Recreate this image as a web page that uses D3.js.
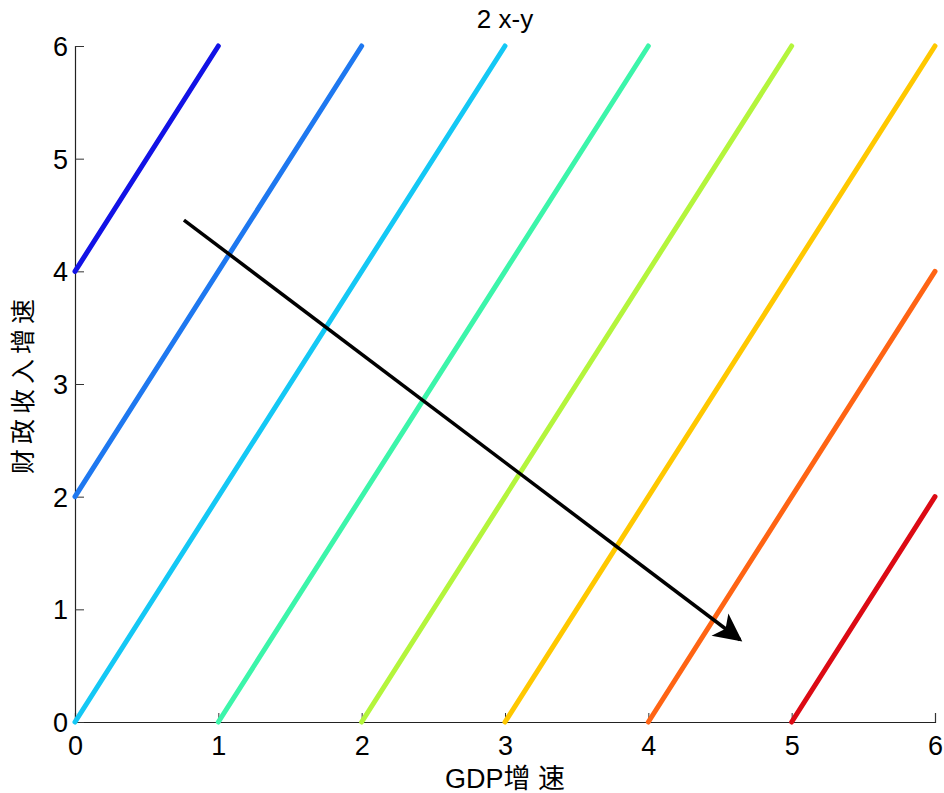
<!DOCTYPE html>
<html>
<head>
<meta charset="utf-8">
<script src="https://cdn.jsdelivr.net/npm/d3@7"></script>
<style>
  body { margin: 0; background: #fff; }
  text { font-family: "Liberation Sans", Arial, sans-serif; }
</style>
</head>
<body>
<div id="chart"></div>
<script>
// line start / end points
const startX = [0, 0, 0, 1, 2, 3, 4, 5];
const startY = [4, 2, 0, 0, 0, 0, 0, 0];
const endX = [1, 2, 3, 4, 5, 6, 6, 6];
const endY = [6, 6, 6, 6, 6, 6, 4, 2];
const lineColors = ['#1212e6', '#1e78f0', '#14c8f5', '#3cf5aa', '#b4f53c', '#ffc800', '#ff6414', '#dc0a14'];
const xTicks = [0, 1, 2, 3, 4, 5, 6];
const yTicks = [0, 1, 2, 3, 4, 5, 6];
const arrowFrom = [0.76, 4.455];
const arrowTo = [4.64, 0.73];

const W = 944, H = 793;
const margin = { top: 46, right: 9, bottom: 71, left: 75 };

const svg = d3.select('#chart').append('svg')
  .attr('width', W).attr('height', H);

const x = d3.scaleLinear().domain([0, 6]).range([margin.left, W - margin.right]);
const y = d3.scaleLinear().domain([0, 6]).range([H - margin.bottom, margin.top]);

// axes (ticks point inward)
let xAxis = svg.append('g')
  .attr('transform', 'translate(0,' + y(0) + ')')
  .call(d3.axisBottom(x).tickValues(xTicks).tickSize(-9).tickFormat(d3.format('d')));
let yAxis = svg.append('g')
  .attr('transform', 'translate(' + x(0) + ',0)')
  .call(d3.axisLeft(y).tickValues(yTicks).tickSize(-9).tickFormat(d3.format('d')));

[xAxis, yAxis].forEach(a => {
  a.attr('font-size', null);
  a.select('.domain').attr('stroke', '#222').attr('stroke-width', 1.2);
  a.selectAll('.tick line').attr('stroke', '#333').attr('stroke-width', 1);
  a.selectAll('.tick text').style('font-size', '27px').attr('fill', '#000');
});
xAxis.selectAll('.tick text').attr('y', 13).attr('dy', '0.75em');
yAxis.selectAll('.tick text').attr('x', -7).attr('dy', '0.35em');

// lines
let lineData = startX.map((d, i) => ({ x0: d, y0: startY[i], x1: endX[i], y1: endY[i], c: lineColors[i] }));
svg.append('g').selectAll('line').data(lineData).enter().append('line')
  .attr('x1', d => x(d.x0)).attr('y1', d => y(d.y0))
  .attr('x2', d => x(d.x1)).attr('y2', d => y(d.y1))
  .attr('stroke', d => d.c).attr('stroke-width', 5)
  .attr('stroke-linecap', 'round');

// arrow
svg.append('defs').append('marker')
  .attr('id', 'head')
  .attr('viewBox', '0 0 10 10')
  .attr('refX', 9).attr('refY', 5)
  .attr('markerWidth', 9).attr('markerHeight', 8)
  .attr('markerUnits', 'strokeWidth')
  .attr('orient', 'auto')
  .append('path').attr('d', 'M0,0 L10,5 L0,10 L2.5,5 Z').attr('fill', '#000');

svg.append('line')
  .attr('x1', x(arrowFrom[0])).attr('y1', y(arrowFrom[1]))
  .attr('x2', x(arrowTo[0])).attr('y2', y(arrowTo[1]))
  .attr('stroke', '#000').attr('stroke-width', 3.5)
  .attr('marker-end', 'url(#head)');

// title and labels
svg.append('text').attr('x', (x(0) + x(6)) / 2).attr('y', 28)
  .attr('text-anchor', 'middle').style('font-size', '26px').text('2 x-y');
svg.append('text').attr('x', (x(0) + x(6)) / 2).attr('y', 788)
  .attr('text-anchor', 'middle').style('font-size', '27px')
  .style('font-family', '"Liberation Sans", "Noto Sans CJK SC", sans-serif')
  .text('GDP增 速');
svg.append('text')
  .attr('transform', 'translate(32,' + ((y(0) + y(6)) / 2) + ') rotate(-90)')
  .attr('text-anchor', 'middle').style('font-size', '25px')
  .style('font-family', '"Noto Sans CJK SC", sans-serif')
  .style('letter-spacing', '5px')
  .text('财政收入增速');
</script>
</body>
</html>
